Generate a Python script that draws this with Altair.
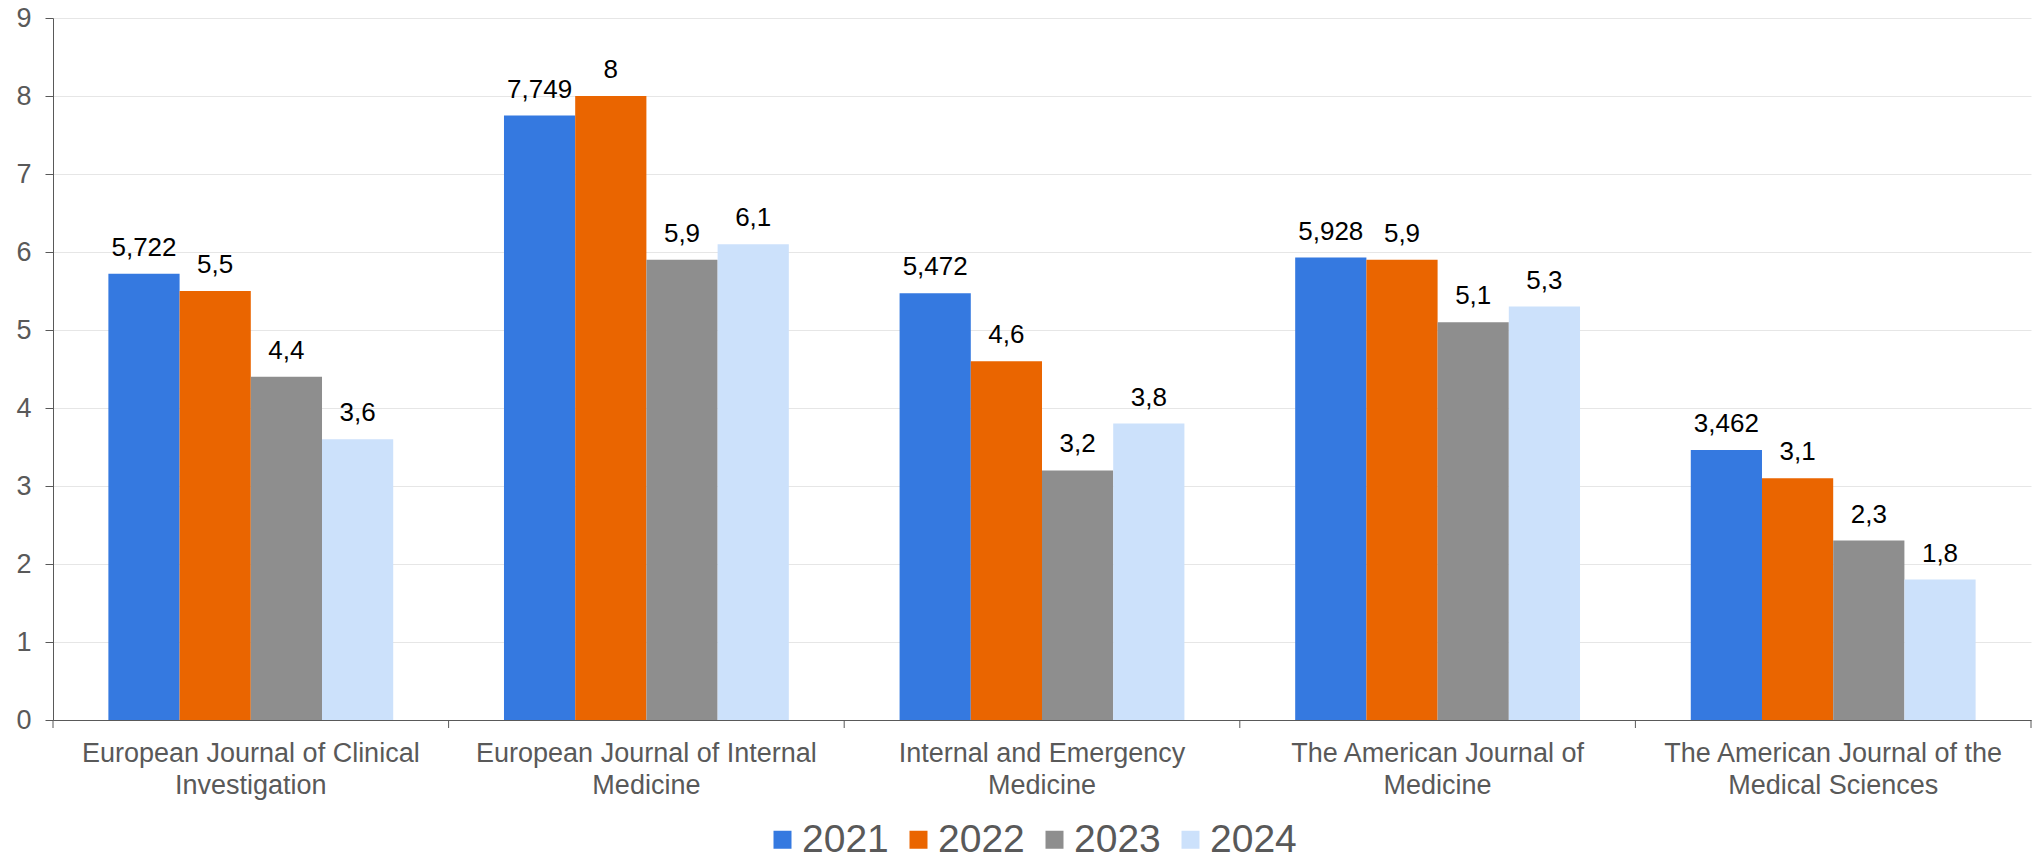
import altair as alt
import pandas as pd

categories = [
    "European Journal of Clinical Investigation",
    "European Journal of Internal Medicine",
    "Internal and Emergency Medicine",
    "The American Journal of Medicine",
    "The American Journal of the Medical Sciences",
]
label_lines = [
    ["European Journal of Clinical", "Investigation"],
    ["European Journal of Internal", "Medicine"],
    ["Internal and Emergency", "Medicine"],
    ["The American Journal of", "Medicine"],
    ["The American Journal of the", "Medical Sciences"],
]
years = ["2021", "2022", "2023", "2024"]
v2021 = [5.722, 7.749, 5.472, 5.928, 3.462]
v2022 = [5.5, 8, 4.6, 5.9, 3.1]
v2023 = [4.4, 5.9, 3.2, 5.1, 2.3]
v2024 = [3.6, 6.1, 3.8, 5.3, 1.8]
colors = ["#3579E0", "#EA6500", "#8E8E8E", "#CCE1FB"]

series = [v2021, v2022, v2023, v2024]
rows = []
for y, vals in zip(years, series):
    for c, v in zip(categories, vals):
        rows.append({"journal": c, "year": y, "value": v,
                     "label": f"{v:g}".replace(".", ",")})
df = pd.DataFrame(rows)

ticks_df = pd.DataFrame({"pos": list(range(len(categories) + 1))})

FONT = "Liberation Sans"
GRAY = "#595959"

mapping = "{" + ",".join(
    "'" + c + "':['" + l[0] + "','" + l[1] + "']" for c, l in zip(categories, label_lines)
) + "}"

x_enc = alt.X(
    "journal:N",
    sort=categories,
    scale=alt.Scale(paddingInner=0.28, paddingOuter=0.14),
    axis=alt.Axis(
        title=None, labelAngle=0, ticks=False, domainColor=GRAY, domainWidth=1,
        labelFont=FONT, labelFontSize=27, labelColor=GRAY, labelPadding=20,
        labelLineHeight=32, labelExpr=mapping + "[datum.value]", labelLimit=0,
    ),
)
xoff = alt.XOffset("year:N", sort=years, scale=alt.Scale(paddingInner=0, paddingOuter=0))
y_enc = alt.Y(
    "value:Q",
    scale=alt.Scale(domain=[0, 9], nice=False),
    axis=alt.Axis(
        title=None, values=list(range(10)), tickCount=10, domainColor=GRAY,
        tickColor=GRAY, tickSize=8, labelFont=FONT, labelFontSize=27,
        labelColor=GRAY, labelPadding=14, gridColor="#E6E6E6",
    ),
)

bars = alt.Chart(df).mark_bar().encode(
    x=x_enc,
    xOffset=xoff,
    y=y_enc,
    color=alt.Color(
        "year:N",
        sort=years,
        scale=alt.Scale(domain=years, range=colors),
        legend=alt.Legend(
            title=None, orient="none", legendX=710, legendY=802,
            direction="horizontal",
            symbolType="square", symbolSize=324, symbolStrokeWidth=0,
            labelFont=FONT, labelFontSize=39, labelColor=GRAY,
            columnPadding=10, labelOffset=0,
        ),
    ),
)

text = alt.Chart(df).mark_text(
    baseline="bottom", dy=-13, font=FONT, fontSize=26, color="#000000"
).encode(
    x=alt.X("journal:N", sort=categories),
    xOffset=alt.XOffset("year:N", sort=years),
    y=alt.Y("value:Q"),
    text="label:N",
)

tick_layer = alt.Chart(ticks_df).mark_rule(color=GRAY, strokeWidth=1, y2Offset=8).encode(
    x=alt.X("pos:Q", scale=alt.Scale(domain=[0, len(categories)], nice=False, zero=False), axis=None),
    y=alt.datum(0),
    y2=alt.datum(0),
)

chart = alt.layer(alt.layer(bars, text), tick_layer).resolve_scale(x="independent").properties(
    width=1978,
    height=702,
    autosize=alt.AutoSizeParams(type="none"),
    padding={"left": 45, "top": 10, "right": 3, "bottom": 133},
).configure_view(stroke=None)

chart.save("out.html", embed_options={"renderer": "svg", "actions": False})
